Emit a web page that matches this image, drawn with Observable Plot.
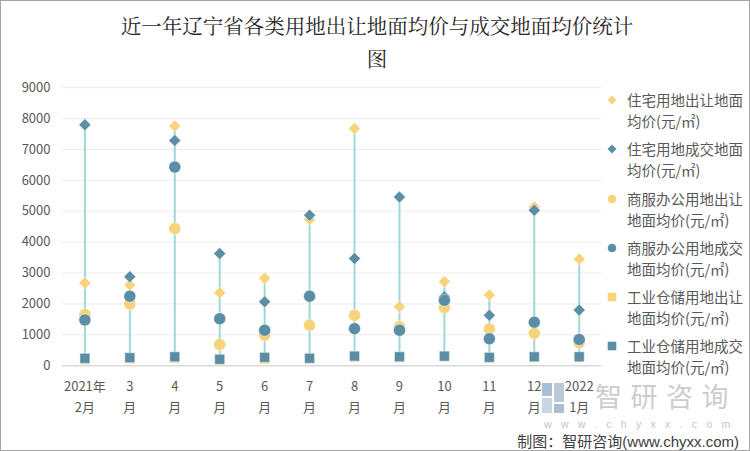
<!DOCTYPE html>
<html><head><meta charset="utf-8">
<script src="https://cdn.jsdelivr.net/npm/d3@7"></script>
<script src="https://cdn.jsdelivr.net/npm/@observablehq/plot@0.6"></script>
<style>
html,body{margin:0;padding:0;background:#fff;}
#wrap{position:relative;width:750px;height:451px;box-sizing:border-box;border:1px solid #a6a6a6;overflow:hidden;font-family:"Noto Sans CJK SC","Liberation Sans",sans-serif;background:#fff;}
#title{position:absolute;left:60px;width:632px;top:8px;text-align:center;font-family:"Noto Serif CJK SC","Noto Sans CJK SC",serif;font-size:20.5px;line-height:33px;color:#262626;}
#chart{position:absolute;left:-1px;top:-1px;z-index:2;}
#legend{position:absolute;left:606px;top:88px;z-index:3;color:#595959;font-size:14.5px;line-height:21px;}
.item{position:relative;padding-left:20px;height:42px;margin-bottom:7.3px;white-space:nowrap;}
.item svg{position:absolute;left:0;top:6px;}
#footer{position:absolute;right:10px;top:431px;font-size:15px;line-height:18px;color:#404040;z-index:3;font-family:"Noto Sans CJK SC","Liberation Sans",sans-serif;}
#footer span{font-family:"Liberation Sans","Noto Sans CJK SC",sans-serif;}
#wm1{position:absolute;left:594px;top:381px;font-size:27px;letter-spacing:8.5px;color:#cdcdcd;z-index:1;line-height:27px;}
#wm2{position:absolute;left:543px;top:418.5px;font-size:10.5px;letter-spacing:9.3px;color:#c4c4c4;z-index:1;font-family:"Liberation Sans",sans-serif;line-height:9px;}
#logo{position:absolute;left:541px;top:382px;width:22px;height:30px;z-index:1;}
</style></head>
<body>
<div id="wrap">
  <div id="title">近一年辽宁省各类用地出让地面均价与成交地面均价统计<br>图</div>
  <div id="logo"><svg width="22" height="30"><rect x="0" y="0" width="10" height="13" fill="#a9bfd6"/><rect x="12" y="0" width="10" height="19" fill="#b9c9da"/><rect x="0" y="15" width="10" height="15" fill="#c9d5e2"/><rect x="12" y="21" width="10" height="9" fill="#a9bfd6"/></svg></div>
  <div id="wm1">智研咨询</div>
  <div id="wm2">www.chyxx.com</div>
  <div id="chart"></div>
  <div id="legend"></div>
  <div id="footer">制图：智研咨询<span>(www.chyxx.com)</span></div>
</div>
<script>
const categories = ["2021年2月","3月","4月","5月","6月","7月","8月","9月","10月","11月","12月","2022年1月"];
const tickLabels = ["2021年\n2月","3\n月","4\n月","5\n月","6\n月","7\n月","8\n月","9\n月","10\n月","11\n月","12\n月","2022\n1月"];
const yTicks = [0,1000,2000,3000,4000,5000,6000,7000,8000,9000];

const resTransfer = [2680,2610,7760,2360,2830,4730,7680,1910,2720,2290,5140,3450];
const resDeal     = [7800,2880,7290,3630,2070,4870,3470,5460,2230,1630,5030,1800];
const comTransfer = [1660,2000,4440, 690, 990,1310,1630,1260,1880,1190,1050, 740];
const comDeal     = [1480,2250,6430,1520,1150,2250,1200,1150,2120, 870,1410, 850];
const indTransfer = [ 200, 230, 250, 180, 220, 230, 290, 270, 290, 250, 270, 270];
const indDeal     = [ 240, 260, 290, 210, 270, 240, 310, 290, 310, 270, 290, 290];

const seriesNames = [
  ["住宅用地出让地面","均价(元/㎡)"],
  ["住宅用地成交地面","均价(元/㎡)"],
  ["商服办公用地出让","地面均价(元/㎡)"],
  ["商服办公用地成交","地面均价(元/㎡)"],
  ["工业仓储用地出让","地面均价(元/㎡)"],
  ["工业仓储用地成交","地面均价(元/㎡)"]
];
const seriesValues = [resTransfer,resDeal,comTransfer,comDeal,indTransfer,indDeal];
const yellow = "#F7D37C", blue = "#5A8EA7";
const seriesColors = [yellow,blue,yellow,blue,yellow,blue];
const seriesSymbols = ["diamond2","diamond2","circle","circle","square","square"];
const seriesR = [5.4,5.4,6,6,5.6,5.6];

const ranges = categories.map((c,i) => {
  const vals = seriesValues.map(s => s[i]);
  return {cat:c, lo:d3.min(vals), hi:d3.max(vals)};
});

const dotMarks = seriesValues.map((vals,k) =>
  Plot.dot(categories.map((c,i)=>({cat:c, v:vals[i]})), {
    x:"cat", y:"v", symbol: seriesSymbols[k], r: seriesR[k],
    fill: seriesColors[k], stroke:"white", strokeWidth:0.6, strokeOpacity:0.7
  })
);

const chart = Plot.plot({
  width: 750, height: 451,
  marginLeft: 62, marginRight: 148, marginTop: 87.3, marginBottom: 85.3,
  style: {background:"transparent", fontFamily:'"Noto Sans CJK SC","Liberation Sans",sans-serif', fontSize:"13px", color:"#595959"},
  x: {type:"band", domain: categories, padding: 0, axis: null},
  y: {domain:[0,9000], axis: null},
  marks: [
    Plot.gridY(yTicks.slice(1), {stroke:"#ececec", strokeOpacity:1, strokeWidth:1}),
    Plot.ruleY([0], {stroke:"#d9d9d9", strokeWidth:1.5}),
    Plot.axisY(yTicks, {tickSize:0, tickPadding:12, tickFormat: d => String(d), fontSize:13, fill:"#595959"}),
    Plot.ruleX(ranges, {x:"cat", y1:"lo", y2:"hi", stroke:"#9ed7d5", strokeWidth:2}),
    ...dotMarks,
    Plot.text(categories, {x: d => d, text: (d,i) => tickLabels[i], frameAnchor:"bottom", dy:10, lineAnchor:"top", lineHeight:1.65, fontSize:13, fill:"#595959"})
  ]
});
document.getElementById("chart").appendChild(chart);

const legend = document.getElementById("legend");
seriesNames.forEach((nm,k) => {
  const it = document.createElement("div");
  it.className = "item";
  let shape;
  const c = seriesColors[k];
  if (seriesSymbols[k]==="diamond2") shape = `<polygon points="5,0.5 9.5,5 5,9.5 0.5,5" fill="${c}"/>`;
  else if (seriesSymbols[k]==="circle") shape = `<circle cx="5" cy="5" r="4.3" fill="${c}"/>`;
  else shape = `<rect x="0.7" y="0.7" width="8.6" height="8.6" fill="${c}"/>`;
  it.innerHTML = `<svg width="10" height="10">${shape}</svg>${nm[0]}<br>${nm[1]}`;
  legend.appendChild(it);
});
</script>
</body></html>
